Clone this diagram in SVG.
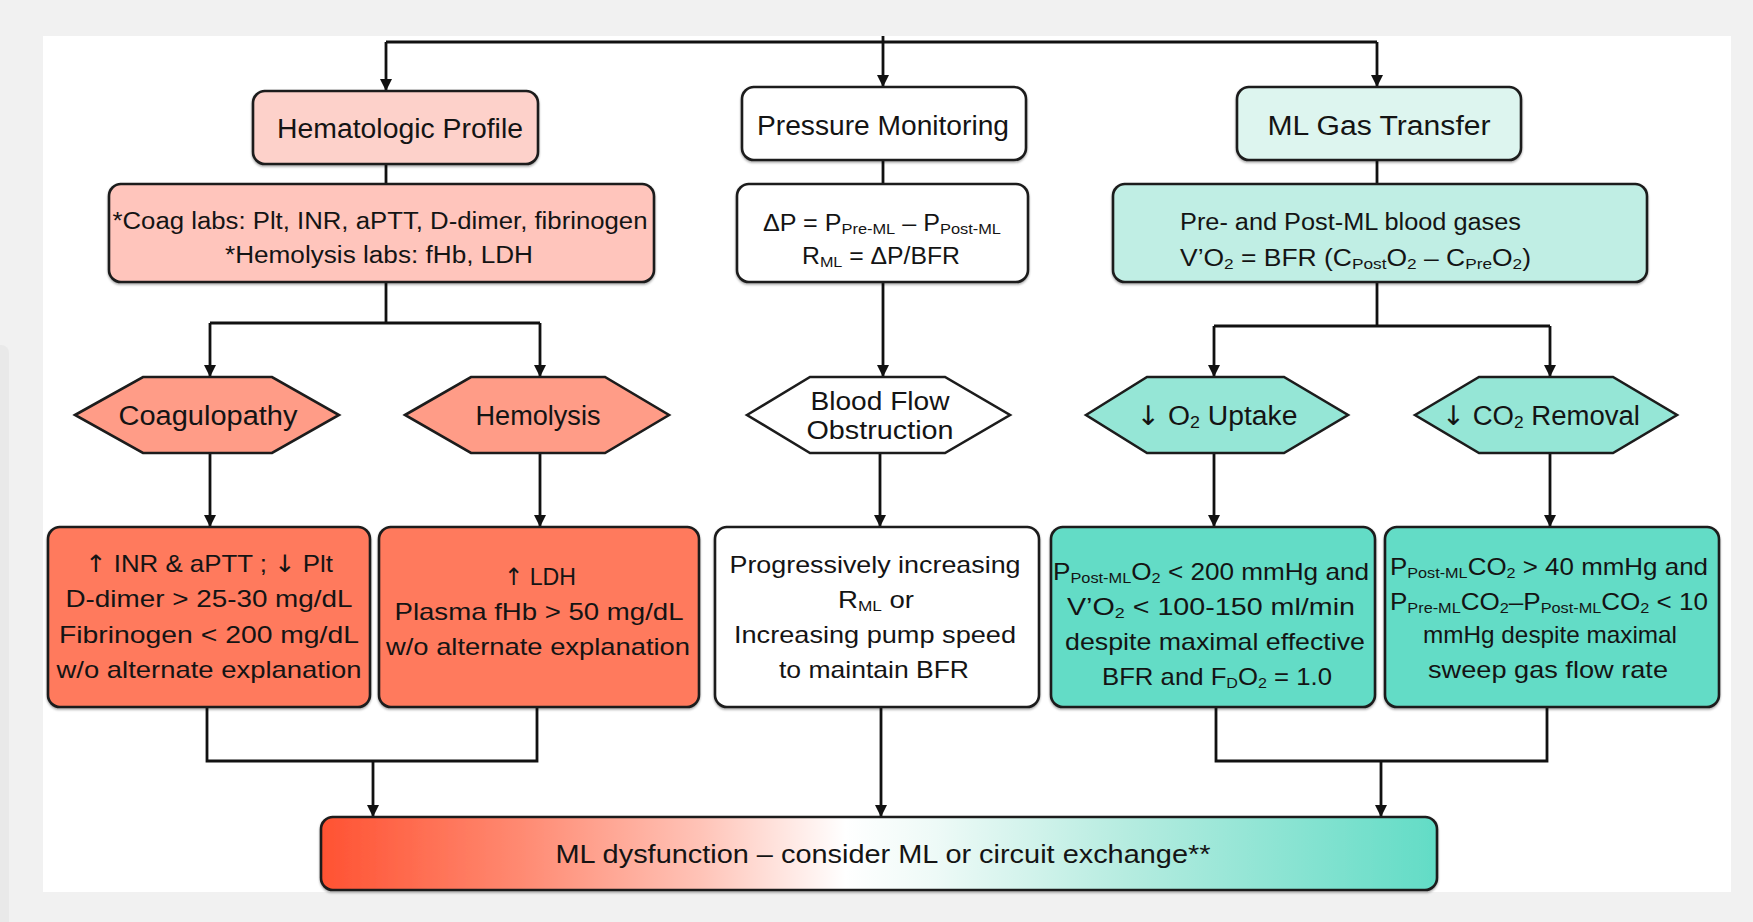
<svg xmlns="http://www.w3.org/2000/svg" width="1753" height="922" viewBox="0 0 1753 922">
<defs>
<style>
.t{font-family:"Liberation Sans","DejaVu Sans",sans-serif;fill:#141414;text-anchor:middle}
.ts{font-family:"Liberation Sans","DejaVu Sans",sans-serif;fill:#141414;text-anchor:start}
.h{font-size:27px}
.b{font-size:24px}
.s{font-size:15px}
.a{font-family:"DejaVu Sans",sans-serif}
.box{stroke:#1c1c1c;stroke-width:2.6}
.ln{fill:none;stroke:#111;stroke-width:2.8}
</style>
<marker id="arr" viewBox="0 0 12 12" markerWidth="12" markerHeight="12" refX="12" refY="6" orient="auto" markerUnits="userSpaceOnUse">
<path d="M0,0 L12,6 L0,12 z" fill="#111"/>
</marker>
<filter id="sh" x="-5%" y="-5%" width="110%" height="120%">
<feDropShadow dx="0" dy="1.5" stdDeviation="0.8" flood-color="#000" flood-opacity="0.35"/>
</filter>
<linearGradient id="grad" x1="0" y1="0" x2="1" y2="0">
<stop offset="0" stop-color="#ff5232"/>
<stop offset="0.18" stop-color="#ff8a72"/>
<stop offset="0.34" stop-color="#ffc3b7"/>
<stop offset="0.47" stop-color="#ffffff"/>
<stop offset="0.55" stop-color="#eefaf7"/>
<stop offset="0.72" stop-color="#b6ece0"/>
<stop offset="1" stop-color="#62dcc6"/>
</linearGradient>
</defs>

<rect x="0" y="0" width="1753" height="922" fill="#f1f1f1"/>
<rect x="-10" y="345" width="19" height="600" rx="8" fill="#e9e9e9"/>
<rect x="43" y="36" width="1688" height="856" fill="#ffffff"/>

<g id="connectors">
<path class="ln" d="M883,36 V87" marker-end="url(#arr)"/>
<path class="ln" d="M386,42 H1377"/>
<path class="ln" d="M386,42 V91" marker-end="url(#arr)"/>
<path class="ln" d="M1377,42 V87" marker-end="url(#arr)"/>
<path class="ln" d="M386,164 V184"/>
<path class="ln" d="M883,160 V184"/>
<path class="ln" d="M1377,160 V184"/>
<path class="ln" d="M386,282 V323"/>
<path class="ln" d="M210,323 H540"/>
<path class="ln" d="M210,323 V377" marker-end="url(#arr)"/>
<path class="ln" d="M540,323 V377" marker-end="url(#arr)"/>
<path class="ln" d="M883,282 V377" marker-end="url(#arr)"/>
<path class="ln" d="M1377,282 V326"/>
<path class="ln" d="M1214,326 H1550"/>
<path class="ln" d="M1214,326 V377" marker-end="url(#arr)"/>
<path class="ln" d="M1550,326 V377" marker-end="url(#arr)"/>
<path class="ln" d="M210,453 V527" marker-end="url(#arr)"/>
<path class="ln" d="M540,453 V527" marker-end="url(#arr)"/>
<path class="ln" d="M880,453 V527" marker-end="url(#arr)"/>
<path class="ln" d="M1214,453 V527" marker-end="url(#arr)"/>
<path class="ln" d="M1550,453 V527" marker-end="url(#arr)"/>
<path class="ln" d="M207,707 V761 H537 V707"/>
<path class="ln" d="M373,761 V817" marker-end="url(#arr)"/>
<path class="ln" d="M881,707 V817" marker-end="url(#arr)"/>
<path class="ln" d="M1216,707 V761 H1547 V707"/>
<path class="ln" d="M1381,761 V817" marker-end="url(#arr)"/>
</g>

<g id="hematologic-profile">
<rect class="box" x="253" y="91" width="285" height="73" rx="12" fill="#fdd1ca" filter="url(#sh)"/>
<text class="t h" x="400" y="138" textLength="246" lengthAdjust="spacingAndGlyphs">Hematologic Profile</text>
</g>

<g id="pressure-monitoring">
<rect class="box" x="742" y="87" width="284" height="73" rx="12" fill="#ffffff" filter="url(#sh)"/>
<text class="t h" x="883" y="135" textLength="252" lengthAdjust="spacingAndGlyphs">Pressure Monitoring</text>
</g>

<g id="ml-gas-transfer">
<rect class="box" x="1237" y="87" width="284" height="73" rx="12" fill="#ddf5ef" filter="url(#sh)"/>
<text class="t h" x="1379" y="135" textLength="223" lengthAdjust="spacingAndGlyphs">ML Gas Transfer</text>
</g>

<g id="labs">
<rect class="box" x="109" y="184" width="545" height="98" rx="12" fill="#ffc5bc" filter="url(#sh)"/>
<text class="t" style="font-size:23px" x="380" y="229" textLength="535" lengthAdjust="spacingAndGlyphs">*Coag labs: Plt, INR, aPTT, D-dimer, fibrinogen</text>
<text class="t" style="font-size:23px" x="379" y="263" textLength="308" lengthAdjust="spacingAndGlyphs">*Hemolysis labs: fHb, LDH</text>
</g>

<g id="pressure-formula">
<rect class="box" x="737" y="184" width="291" height="98" rx="12" fill="#ffffff" filter="url(#sh)"/>
<text class="t" style="font-size:23px" x="882" y="231" textLength="238" lengthAdjust="spacingAndGlyphs">ΔP = P<tspan class="s" dy="3">Pre-ML</tspan><tspan dy="-3"> – P</tspan><tspan class="s" dy="3">Post-ML</tspan></text>
<text class="t" style="font-size:23px" x="881" y="264" textLength="158" lengthAdjust="spacingAndGlyphs">R<tspan class="s" dy="3">ML</tspan><tspan dy="-3"> = ΔP/BFR</tspan></text>
</g>

<g id="blood-gases">
<rect class="box" x="1113" y="184" width="534" height="98" rx="12" fill="#c0eee4" filter="url(#sh)"/>
<text class="ts" style="font-size:23px" x="1180" y="230" textLength="341" lengthAdjust="spacingAndGlyphs">Pre- and Post-ML blood gases</text>
<text class="ts" style="font-size:23px" x="1180" y="266" textLength="351" lengthAdjust="spacingAndGlyphs">V’O<tspan class="s" dy="3">2</tspan><tspan dy="-3"> = BFR (C</tspan><tspan class="s" dy="3">Post</tspan><tspan dy="-3">O</tspan><tspan class="s" dy="3">2</tspan><tspan dy="-3"> – C</tspan><tspan class="s" dy="3">Pre</tspan><tspan dy="-3">O</tspan><tspan class="s" dy="3">2</tspan><tspan dy="-3">)</tspan></text>
</g>

<g id="coagulopathy">
<polygon class="box" points="75,415 143,377 272,377 339,415 272,453 143,453" fill="#ff9c87"/>
<text class="t h" x="208" y="425" textLength="179" lengthAdjust="spacingAndGlyphs">Coagulopathy</text>
</g>

<g id="hemolysis">
<polygon class="box" points="405,415 471,377 605,377 669,415 605,453 471,453" fill="#ff9c87"/>
<text class="t h" x="538" y="425" textLength="125" lengthAdjust="spacingAndGlyphs">Hemolysis</text>
</g>

<g id="blood-flow-obstruction">
<polygon class="box" points="747,415 810,377 945,377 1010,415 945,453 810,453" fill="#ffffff"/>
<text class="t" style="font-size:26px" x="880" y="410" textLength="139" lengthAdjust="spacingAndGlyphs">Blood Flow</text>
<text class="t" style="font-size:26px" x="880" y="439" textLength="147" lengthAdjust="spacingAndGlyphs">Obstruction</text>
</g>

<g id="o2-uptake">
<polygon class="box" points="1086,415 1147,377 1284,377 1348,415 1284,453 1147,453" fill="#95e6d6"/>
<text class="t h" x="1217" y="425" textLength="161" lengthAdjust="spacingAndGlyphs"><tspan class="a">↓</tspan> O<tspan class="s" style="font-size:17px" dy="3">2</tspan><tspan dy="-3"> Uptake</tspan></text>
</g>

<g id="co2-removal">
<polygon class="box" points="1415,415 1479,377 1613,377 1677,415 1613,453 1479,453" fill="#95e6d6"/>
<text class="t h" x="1541" y="425" textLength="198" lengthAdjust="spacingAndGlyphs"><tspan class="a">↓</tspan> CO<tspan class="s" style="font-size:17px" dy="3">2</tspan><tspan dy="-3"> Removal</tspan></text>
</g>

<g id="coag-criteria">
<rect class="box" x="48" y="527" width="322" height="180" rx="12" fill="#ff7a5d" filter="url(#sh)"/>
<text class="t b" x="209" y="572" textLength="248" lengthAdjust="spacingAndGlyphs"><tspan class="a">↑</tspan> INR &amp; aPTT ; <tspan class="a">↓</tspan> Plt</text>
<text class="t b" x="209" y="607" textLength="287" lengthAdjust="spacingAndGlyphs">D-dimer &gt; 25-30 mg/dL</text>
<text class="t b" x="209" y="643" textLength="300" lengthAdjust="spacingAndGlyphs">Fibrinogen &lt; 200 mg/dL</text>
<text class="t b" x="209" y="678" textLength="305" lengthAdjust="spacingAndGlyphs">w/o alternate explanation</text>
</g>

<g id="hemolysis-criteria">
<rect class="box" x="379" y="527" width="320" height="180" rx="12" fill="#ff7a5d" filter="url(#sh)"/>
<text class="t b" x="540" y="585" textLength="72" lengthAdjust="spacingAndGlyphs"><tspan class="a">↑</tspan> LDH</text>
<text class="t b" x="539" y="620" textLength="289" lengthAdjust="spacingAndGlyphs">Plasma fHb &gt; 50 mg/dL</text>
<text class="t b" x="538" y="655" textLength="304" lengthAdjust="spacingAndGlyphs">w/o alternate explanation</text>
</g>

<g id="pressure-criteria">
<rect class="box" x="715" y="527" width="324" height="180" rx="12" fill="#ffffff" filter="url(#sh)"/>
<text class="t b" x="875" y="573" textLength="291" lengthAdjust="spacingAndGlyphs">Progressively increasing</text>
<text class="t b" x="876" y="608" textLength="76" lengthAdjust="spacingAndGlyphs">R<tspan class="s" dy="3">ML</tspan><tspan dy="-3"> or</tspan></text>
<text class="t b" x="875" y="643" textLength="282" lengthAdjust="spacingAndGlyphs">Increasing pump speed</text>
<text class="t b" x="874" y="678" textLength="190" lengthAdjust="spacingAndGlyphs">to maintain BFR</text>
</g>

<g id="o2-criteria">
<rect class="box" x="1051" y="527" width="324" height="180" rx="12" fill="#63dcc6" filter="url(#sh)"/>
<text class="t b" x="1211" y="580" textLength="316" lengthAdjust="spacingAndGlyphs">P<tspan class="s" dy="3">Post-ML</tspan><tspan dy="-3">O</tspan><tspan class="s" dy="3">2</tspan><tspan dy="-3"> &lt; 200 mmHg and</tspan></text>
<text class="t b" x="1211" y="615" textLength="288" lengthAdjust="spacingAndGlyphs">V’O<tspan class="s" dy="3">2</tspan><tspan dy="-3"> &lt; 100-150 ml/min</tspan></text>
<text class="t b" x="1215" y="650" textLength="300" lengthAdjust="spacingAndGlyphs">despite maximal effective</text>
<text class="t b" x="1217" y="685" textLength="230" lengthAdjust="spacingAndGlyphs">BFR and F<tspan class="s" dy="3">D</tspan><tspan dy="-3">O</tspan><tspan class="s" dy="3">2</tspan><tspan dy="-3"> = 1.0</tspan></text>
</g>

<g id="co2-criteria">
<rect class="box" x="1385" y="527" width="334" height="180" rx="12" fill="#63dcc6" filter="url(#sh)"/>
<text class="t b" x="1549" y="575" textLength="318" lengthAdjust="spacingAndGlyphs">P<tspan class="s" dy="3">Post-ML</tspan><tspan dy="-3">CO</tspan><tspan class="s" dy="3">2</tspan><tspan dy="-3"> &gt; 40 mmHg and</tspan></text>
<text class="t b" x="1549" y="610" textLength="318" lengthAdjust="spacingAndGlyphs">P<tspan class="s" dy="3">Pre-ML</tspan><tspan dy="-3">CO</tspan><tspan class="s" dy="3">2</tspan><tspan dy="-3">–P</tspan><tspan class="s" dy="3">Post-ML</tspan><tspan dy="-3">CO</tspan><tspan class="s" dy="3">2</tspan><tspan dy="-3"> &lt; 10</tspan></text>
<text class="t b" x="1550" y="643" textLength="254" lengthAdjust="spacingAndGlyphs">mmHg despite maximal</text>
<text class="t b" x="1548" y="678" textLength="240" lengthAdjust="spacingAndGlyphs">sweep gas flow rate</text>
</g>

<g id="ml-dysfunction">
<rect class="box" x="321" y="817" width="1116" height="73" rx="12" fill="url(#grad)" filter="url(#sh)"/>
<text class="t" style="font-size:26px" x="883" y="863" textLength="655" lengthAdjust="spacingAndGlyphs">ML dysfunction – consider ML or circuit exchange**</text>
</g>
</svg>
